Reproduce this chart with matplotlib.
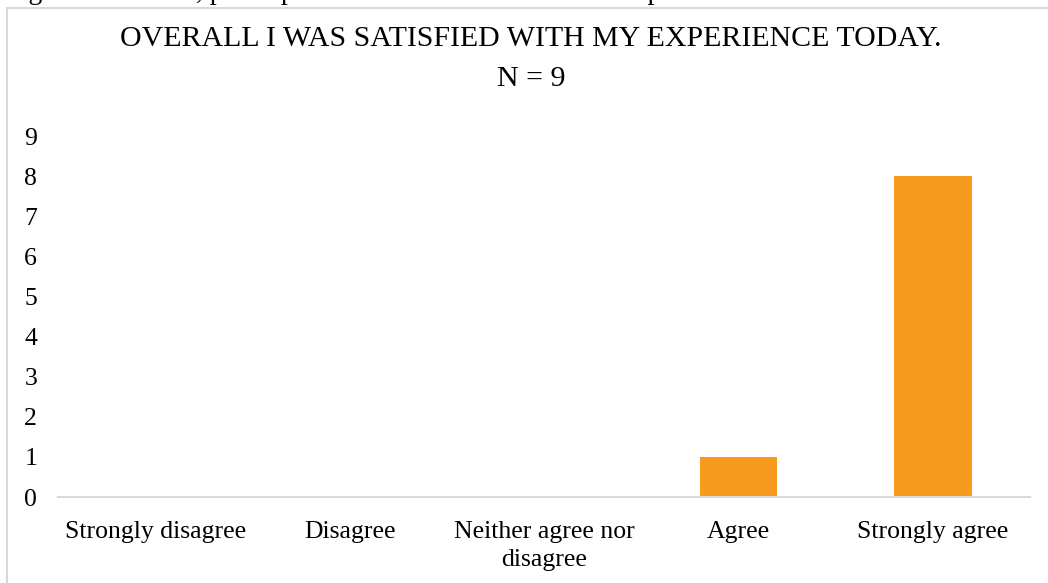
import matplotlib.pyplot as plt
from matplotlib.patches import Rectangle

categories = ['Strongly disagree', 'Disagree', 'Neither agree nor\ndisagree', 'Agree', 'Strongly agree']
counts = [0, 0, 0, 1, 8]
yticks = list(range(0, 10))
title = 'OVERALL I WAS SATISFIED WITH MY EXPERIENCE TODAY.\nN = 9'
caption = 'Figure 4. Overall, participants were satisfied with their experiences'

plt.rcParams['font.family'] = ['Liberation Serif', 'DejaVu Serif']

W, H = 1048, 583
fig = plt.figure(figsize=(W / 100, H / 100), dpi=100)

# chart frame (cut off on the right and bottom like the screenshot)
fig.patches.append(Rectangle((7 / W, -0.1), 1.2, 1 - 8 / H + 0.1, transform=fig.transFigure,
                             fill=False, edgecolor='#D9D9D9', linewidth=1.5))
# caption of the document, only its lower part shows
fig.text(5 / W, 1 + 1 / H, caption, fontsize=20, va='baseline', ha='left', color='black')

ax = fig.add_axes([58 / W, (H - 497) / H, (1030 - 58) / W, (497 - 136) / H])
x = range(len(categories))
ax.bar(x, counts, width=0.4, color='#F79B1F', zorder=2)
ax.set_xlim(-0.5, len(categories) - 0.5)
ax.set_ylim(0, 9)
ax.set_yticks(yticks)
ax.set_yticklabels([str(v) for v in yticks], fontsize=18.5)
ax.set_xticks(list(x))
ax.set_xticklabels(categories, fontsize=18.5, linespacing=1.35)
ax.tick_params(axis='both', length=0, colors='black')
ax.tick_params(axis='y', pad=15)
ax.tick_params(axis='x', pad=17)
for s in ['top', 'right', 'left']:
    ax.spines[s].set_visible(False)
ax.spines['bottom'].set_color('#D9D9D9')
ax.spines['bottom'].set_linewidth(1.5)

fig.text(531 / W, 1 - 59 / H, title, fontsize=21.5, ha='center', va='center', linespacing=1.75)

fig.savefig('out.png', dpi=100)
